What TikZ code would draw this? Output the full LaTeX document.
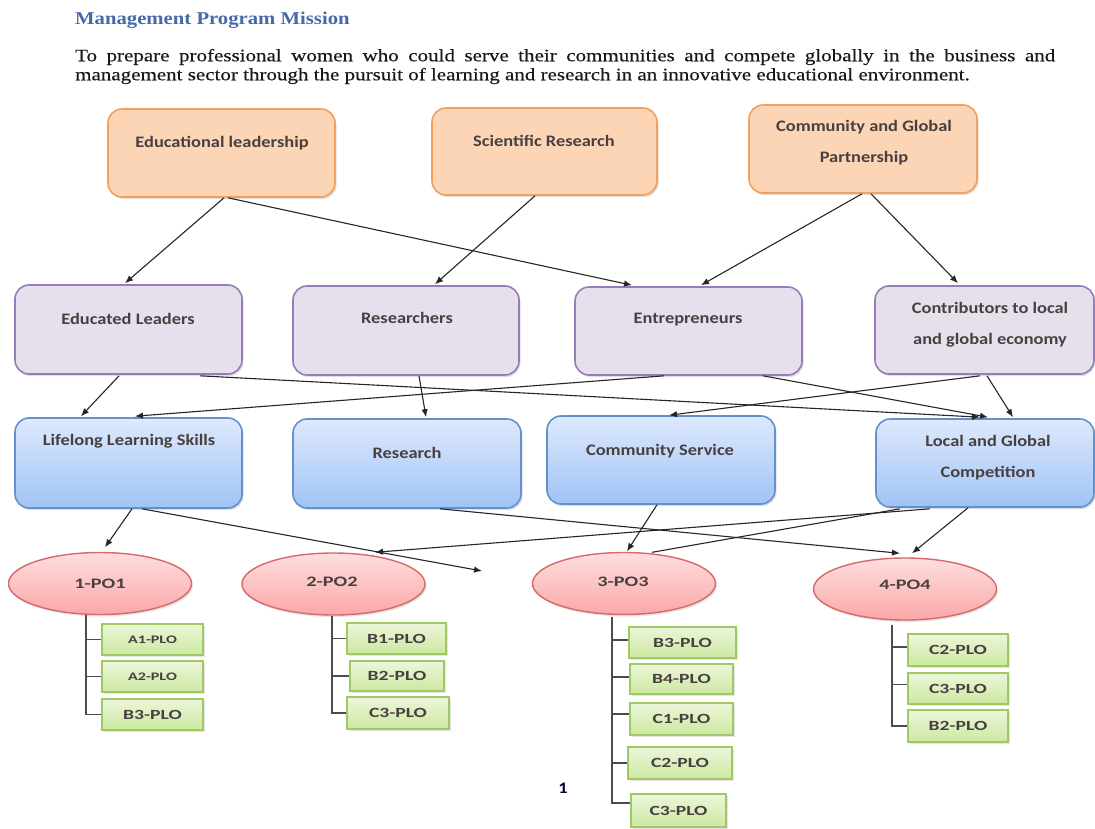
\documentclass[tikz,border=0pt]{standalone}
\usepackage{fontspec}
\usetikzlibrary{arrows.meta,shapes.geometric,shadows,calc}

\newfontfamily\headfont[FakeStretch=1.15]{Liberation Serif}
\newfontfamily\bodyfont[FakeStretch=1.2, FakeBold=0.35]{Liberation Serif}
\newfontfamily\boxfont[FakeStretch=1.15]{Carlito}
\newfontfamily\plofont[FakeStretch=1.4]{Carlito}

\definecolor{titleBlue}{RGB}{70,105,170}
\definecolor{orFill}{RGB}{251,213,181}
\definecolor{orBorder}{RGB}{245,160,90}
\definecolor{lvFill}{RGB}{229,224,236}
\definecolor{lvBorder}{RGB}{150,125,185}
\definecolor{blTop}{RGB}{222,233,252}
\definecolor{blBot}{RGB}{160,195,246}
\definecolor{blBorder}{RGB}{100,145,205}
\definecolor{pkTop}{RGB}{255,222,222}
\definecolor{pkBot}{RGB}{250,168,168}
\definecolor{pkBorder}{RGB}{215,105,105}
\definecolor{gnTop}{RGB}{236,246,218}
\definecolor{gnBot}{RGB}{204,232,160}
\definecolor{gnBorder}{RGB}{160,200,100}
\definecolor{txtGray}{RGB}{72,64,64}

\tikzset{
  box/.style={rounded corners=14pt, line width=1.6pt, inner sep=0pt,
    drop shadow={opacity=0.25, shadow xshift=1.5pt, shadow yshift=-2pt}},
  obox/.style={box, draw=orBorder, fill=orFill},
  pbox/.style={box, draw=lvBorder, fill=lvFill},
  bbox/.style={box, draw=blBorder, top color=blTop, bottom color=blBot},
  poell/.style={ellipse, draw=pkBorder, line width=1.4pt, top color=pkTop,
    bottom color=pkBot, minimum width=183pt, minimum height=62pt, inner sep=0pt,
    drop shadow={opacity=0.2, shadow xshift=1.5pt, shadow yshift=-2pt}},
  plo/.style={rectangle, draw=gnBorder, line width=1.4pt, top color=gnTop,
    bottom color=gnBot, inner sep=0pt,
    drop shadow={opacity=0.2, shadow xshift=1.5pt, shadow yshift=-2pt}},
  lbl/.style={text=txtGray, font=\boxfont\bfseries\fontsize{16}{31}\selectfont, align=center, inner sep=0pt},
  pol/.style={text=txtGray, font=\plofont\bfseries\fontsize{14.5}{16}\selectfont, inner sep=0pt},
  plol/.style={text=txtGray, font=\plofont\bfseries\fontsize{14}{16}\selectfont},
  plos/.style={text=txtGray, font=\plofont\bfseries\fontsize{11.5}{14}\selectfont},
  conn/.style={draw=black!85, line width=1.1pt, -{Latex[length=8pt,width=6.5pt]}},
  plain/.style={draw=black!85, line width=1.1pt},
  tree/.style={draw=black!70, line width=1.8pt},
}

\begin{document}
\begin{tikzpicture}[x=1pt, y=-1pt]
\useasboundingbox[fill=white] (0,0) rectangle (1095,828);

% heading and mission statement
\node[anchor=west, inner sep=0pt, text=titleBlue, font=\headfont\bfseries\fontsize{18}{20}\selectfont]
  (title) at (75,20) {Management Program Mission};
\node[anchor=west, inner sep=0pt, text=black!90, font=\bodyfont\fontsize{17.5}{19}\selectfont] (mis1) at (75,57)
  {\makebox[980pt][s]{To prepare professional women who could serve their communities and compete globally in the business and}};
\node[anchor=west, inner sep=0pt, text=black!90, font=\bodyfont\fontsize{17.5}{19}\selectfont] (mis2) at (75,76)
  {management sector through the pursuit of learning and research in an innovative educational environment.};

% values
\node[obox, minimum width=227pt, minimum height=88pt] (edl) at (221.5,153) {};
\node[obox, minimum width=225pt, minimum height=87pt] (sci) at (544.5,151.5) {};
\node[obox, minimum width=228pt, minimum height=88pt] (cgp) at (863,149) {};
\node[lbl] (edlT) at (222,143) {Educational leadership};
\node[lbl] (sciT) at (544,141) {Scientific Research};
\node[lbl] (cgpT) at (864,143) {Community and Global\\Partnership};

% graduate attributes
\node[pbox, minimum width=227pt, minimum height=89pt] (edu) at (128.5,329.5) {};
\node[pbox, minimum width=226pt, minimum height=89pt] (res) at (406,330.5) {};
\node[pbox, minimum width=227pt, minimum height=88pt] (ent) at (688.5,331) {};
\node[pbox, minimum width=219pt, minimum height=88pt] (con) at (984.5,330) {};
\node[lbl] (eduT) at (128,319) {Educated Leaders};
\node[lbl] (resT) at (407,318) {Researchers};
\node[lbl] (entT) at (688,320) {Entrepreneurs};
\node[lbl] (conT) at (990,325) {Contributors to local\\and global economy};

% program goals
\node[bbox, minimum width=227pt, minimum height=90pt] (ll) at (128.5,463) {};
\node[bbox, minimum width=228pt, minimum height=89pt] (rs) at (407,463.5) {};
\node[bbox, minimum width=228pt, minimum height=88pt] (cs) at (661,460) {};
\node[bbox, minimum width=218pt, minimum height=88pt] (lgc) at (985,463) {};
\node[lbl] (llT) at (129,441) {Lifelong Learning Skills};
\node[lbl] (rsT) at (407,453) {Research};
\node[lbl] (csT) at (660,451) {Community Service};
\node[lbl] (lgcT) at (988,458) {Local and Global\\Competition};

% program objectives
\node[poell] (po1) at (100,583.5) {};
\node[poell] (po2) at (333.5,584) {};
\node[poell] (po3) at (624,583.5) {};
\node[poell] (po4) at (905,589) {};
\node[pol] (po1T) at (100,584) {1-PO1};
\node[pol] (po2T) at (332,582) {2-PO2};
\node[pol] (po3T) at (623,582) {3-PO3};
\node[pol] (po4T) at (905,585) {4-PO4};

% learning outcomes
\node[plo, minimum width=101pt, minimum height=31pt, plos] (p1a1) at (152.5,639.5) {A1-PLO};
\node[plo, minimum width=101pt, minimum height=31pt, plos] (p1a2) at (152.5,676.5) {A2-PLO};
\node[plo, minimum width=101pt, minimum height=31pt, plol] (p1b3) at (152.5,714.5) {B3-PLO};

\node[plo, minimum width=99pt, minimum height=31pt, plol] (p2b1) at (396.5,638.5) {B1-PLO};
\node[plo, minimum width=94pt, minimum height=30pt, plol] (p2b2) at (397,676) {B2-PLO};
\node[plo, minimum width=102pt, minimum height=32pt, plol] (p2c3) at (398,713) {C3-PLO};

\node[plo, minimum width=107pt, minimum height=31pt, plol] (p3b3) at (682.5,642.5) {B3-PLO};
\node[plo, minimum width=103pt, minimum height=30pt, plol] (p3b4) at (681.5,679) {B4-PLO};
\node[plo, minimum width=103pt, minimum height=32pt, plol] (p3c1) at (681.5,719) {C1-PLO};
\node[plo, minimum width=104pt, minimum height=32pt, plol] (p3c2) at (680,763) {C2-PLO};
\node[plo, minimum width=95pt, minimum height=33pt, plol] (p3c3) at (678.5,810.5) {C3-PLO};

\node[plo, minimum width=100pt, minimum height=32pt, plol] (p4c2) at (958,650) {C2-PLO};
\node[plo, minimum width=100pt, minimum height=31pt, plol] (p4c3) at (958,688.5) {C3-PLO};
\node[plo, minimum width=100pt, minimum height=32pt, plol] (p4b2) at (958,726) {B2-PLO};

% page number
\node[text=black!80!blue, font=\boxfont\bfseries\fontsize{16}{18}\selectfont] (pg) at (563,788) {1};

% outcome trees
\coordinate (t1) at (86,615);
\draw[tree] (t1) |- (p1b3.west);
\draw[tree] (t1 |- p1a1.west) -- (p1a1.west);
\draw[tree] (t1 |- p1a2.west) -- (p1a2.west);

\coordinate (t2) at (332,616);
\draw[tree] (t2) |- (p2c3.west);
\draw[tree] (t2 |- p2b1.west) -- (p2b1.west);
\draw[tree] (t2 |- p2b2.west) -- (p2b2.west);

\coordinate (t3) at (612,617);
\draw[tree] (t3) |- ($(p3c3.west)+(0,-7.5)$);
\draw[tree] ($(t3 |- p3b3.west)+(0,-2.5)$) -- ($(p3b3.west)+(0,-2.5)$);
\draw[tree] ($(t3 |- p3b4.west)+(0,-2)$) -- ($(p3b4.west)+(0,-2)$);
\draw[tree] ($(t3 |- p3c1.west)+(0,-5)$) -- ($(p3c1.west)+(0,-5)$);
\draw[tree] (t3 |- p3c2.west) -- (p3c2.west);

\coordinate (t4) at (892,625);
\draw[tree] (t4) |- (p4b2.west);
\draw[tree] ($(t4 |- p4c2.west)+(0,-3)$) -- ($(p4c2.west)+(0,-3)$);
\draw[tree] ($(t4 |- p4c3.west)+(0,-4)$) -- ($(p4c3.west)+(0,-4)$);

% values to attributes
\draw[conn] ($(edl.south)+(2.5,0)$) -- ($(edu.north)+(-3.5,-1)$);
\draw[conn] ($(edl.south)+(6.5,0)$) -- ($(ent.north)+(-56.5,-1)$);
\draw[conn] ($(sci.south)+(-9.5,0)$) -- ($(res.north)+(29,-1)$);
\draw[conn] ($(cgp.south)+(-1,0)$) -- ($(ent.north)+(12.5,-1)$);
\draw[conn] ($(cgp.south)+(8,0)$) -- ($(con.north)+(-26.5,-2)$);

% attributes to goals
\draw[conn] ($(edu.south)+(-9.5,1)$) -- ($(ll.north)+(-47.5,-1)$);
\draw[conn] ($(edu.south)+(71.5,1)$) -- ($(lgc.north)+(-5,-1)$);
\draw[conn] ($(res.south)+(13,0)$) -- ($(rs.north)+(19,-1)$);
\draw[conn] ($(ent.south)+(-24.5,0)$) -- ($(ll.north)+(6.5,-1)$);
\draw[conn] ($(ent.south)+(74.5,0)$) -- ($(lgc.north)+(3,-1)$);
\draw[conn] ($(con.south)+(-4.5,1)$) -- ($(cs.north)+(8,0)$);
\draw[conn] ($(con.south)+(2.5,1)$) -- ($(lgc.north)+(28,-1)$);

% goals to objectives
\coordinate (loose) at (482,571);
\draw[conn] ($(ll.south)+(3.5,0)$) -- ($(po1.north)+(5,-4.5)$);
\draw[conn] ($(ll.south)+(13.5,0)$) -- (loose);
\draw[conn] ($(rs.south)+(33,0)$) -- ($(po4.north)+(-5,-4)$);
\draw[conn] ($(cs.south)+(-4,0)$) -- ($(po3.north)+(3,-0.5)$);
\draw[conn] ($(lgc.south)+(-55,1)$) -- ($(po2.north)+(41.5,0)$);
\draw[plain] ($(lgc.south)+(-85,1)$) -- ($(po3.north)+(28,0.5)$);
\draw[conn] ($(lgc.south)+(-17,0)$) -- ($(po4.north)+(7,-4)$);
\end{tikzpicture}
\end{document}
